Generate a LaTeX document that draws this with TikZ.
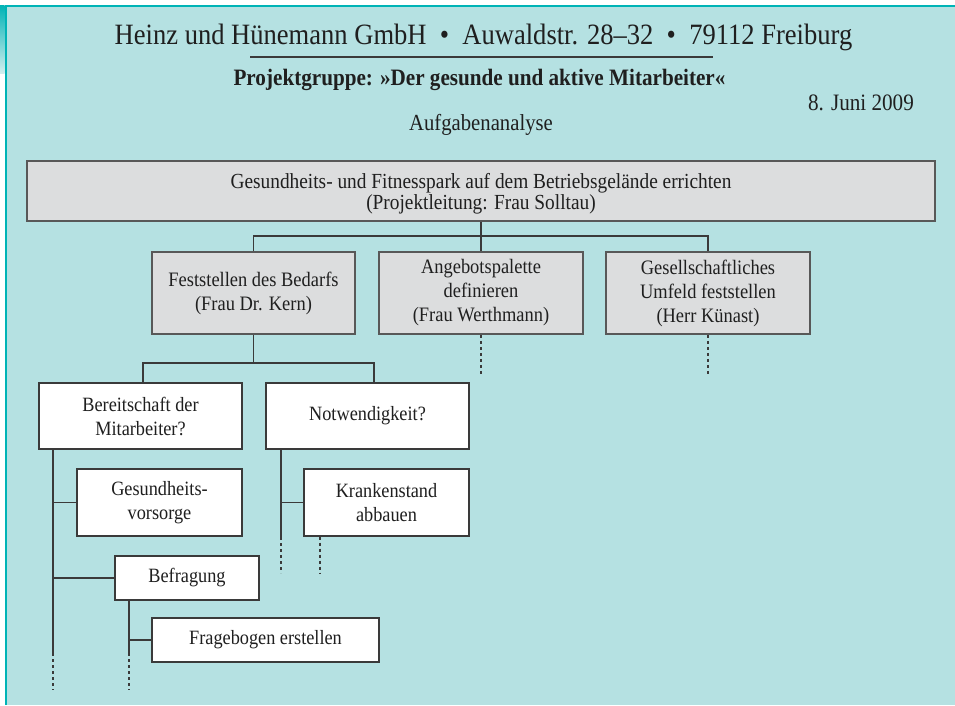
\documentclass[tikz,border=0pt]{standalone}
\usepackage{fontspec}
\setmainfont{Liberation Serif}[FakeStretch=0.9]
\usetikzlibrary{calc}
\newcommand\myfs[2]{\fontsize{#1}{#2}\selectfont}
\definecolor{bgcyan}{HTML}{B5E1E2}
\definecolor{teal1}{HTML}{00B3B6}
\definecolor{tealpale}{HTML}{D2EEEE}
\definecolor{boxgray}{HTML}{DCDDDE}
\definecolor{linegray}{HTML}{3A3A3A}
\tikzset{
  gbox/.style={draw=linegray!85, line width=1.6pt, fill=boxgray, inner sep=0pt, align=center, text=black!88},
  wbox/.style={draw=linegray, line width=1.2pt, fill=white, inner sep=0pt, align=center, text=black!88, font=\myfs{20.3}{24}},
  conn/.style={draw=linegray, line width=1.2pt},
  dconn/.style={draw=linegray, line width=1.1pt, dash pattern=on 3pt off 3pt},
  hdr/.style={inner sep=0pt, text=black!88},
}
\begin{document}
\begin{tikzpicture}[x=1pt, y=-1pt]
\useasboundingbox (0,0) rectangle (955,705);
% frame
\fill[white] (0,0) rectangle (955,705);
\fill[bgcyan] (7,7) rectangle (955,705);
\shade[top color=teal1, bottom color=tealpale] (0,5) rectangle (4.5,73);
\draw[teal1, line width=2pt] (5,6) -- (955,6);
\draw[teal1, line width=2pt] (6,5) -- (6,705);
% header
\node[hdr, anchor=base, font=\myfs{29.5}{32}] (title) at (483.5,44) {Heinz und Hünemann GmbH\ \ •\ \ Auwaldstr. 28–32\ \ •\ \ 79112 Freiburg};
\coordinate (ruleL) at (250,57);
\coordinate (ruleR) at (713,57);
\draw[linegray, line width=1.4pt] (ruleL) -- (ruleR);
\node[hdr, anchor=base, font=\myfs{23.5}{26}\bfseries] (proj) at (479.5,85) {Projektgruppe: »Der gesunde und aktive Mitarbeiter«};
\node[hdr, anchor=base, font=\myfs{23.5}{26}] (date) at (861,110) {8. Juni 2009};
\node[hdr, anchor=base, font=\myfs{23}{26}] (aufg) at (481,130) {Aufgabenanalyse};
% level 1
\node[gbox, minimum width=908, minimum height=60, font=\myfs{21.5}{21}] (top) at (481,191)
  {\rule{0pt}{20pt}Gesundheits- und Fitnesspark auf dem Betriebsgelände errichten\\(Projektleitung: Frau Solltau)};
% level 2
\node[gbox, minimum width=203, minimum height=82, font=\myfs{20.5}{24}] (fest) at (253.5,293)
  {Feststellen des Bedarfs\\(Frau Dr. Kern)};
\node[gbox, minimum width=204, minimum height=82, font=\myfs{20.5}{24}] (ang) at (481,293)
  {Angebotspalette\\definieren\\(Frau Werthmann)};
\node[gbox, minimum width=204, minimum height=82, font=\myfs{20.5}{24}] (ges) at (708,293)
  {Gesellschaftliches\\Umfeld feststellen\\(Herr Künast)};
% level 3
\node[wbox, minimum width=203, minimum height=66] (ber) at (140.5,416)
  {Bereitschaft der\\Mitarbeiter?};
\node[wbox, minimum width=203, minimum height=66] (not) at (367.5,416)
  {Notwendigkeit?};
% level 4
\node[wbox, minimum width=165, minimum height=67] (gv) at (159.5,502.5)
  {Gesundheits-\\vorsorge};
\node[wbox, minimum width=165, minimum height=67] (kr) at (386.5,502.5)
  {Krankenstand\\abbauen};
\node[wbox, minimum width=144, minimum height=44] (bef) at (187,578)
  {Befragung};
\node[wbox, minimum width=227, minimum height=44] (frb) at (265.5,640)
  {Fragebogen erstellen};
% connectors level 1 -> 2
\coordinate (bus1) at (481,236);
\draw[conn] (top.south) -- (ang.north);
\draw[conn] (fest.north) |- (bus1) -| (ges.north);
\coordinate (a1) at (481,376);
\coordinate (g1) at (708,376);
\draw[dconn] (ang.south) -- (a1);
\draw[dconn] (ges.south) -- (g1);
% level 2 -> 3
\coordinate (bus2) at (253.5,363);
\draw[conn] (fest.south) -- (bus2);
\draw[conn] ([xshift=2.5pt]ber.north) |- (bus2) -| ([xshift=6.5pt]not.north);
% Bereitschaft branch
\coordinate (b1) at (53,653);
\coordinate (b1e) at (53,690);
\draw[conn] (ber.south -| b1) -- (b1);
\draw[dconn] (b1) -- (b1e);
\draw[conn] (gv.west) -- (gv.west -| b1);
\draw[conn] (bef.west) -- (bef.west -| b1);
\coordinate (b2) at (129,653);
\coordinate (b2e) at (129,690);
\draw[conn] (bef.south -| b2) -- (b2);
\draw[dconn] (b2) -- (b2e);
\draw[conn] (frb.west) -- (frb.west -| b2);
% Notwendigkeit branch
\coordinate (n1) at (281,537);
\coordinate (n1e) at (281,573);
\draw[conn] (not.south -| n1) -- (n1);
\draw[dconn] (n1) -- (n1e);
\draw[conn] (kr.west) -- (kr.west -| n1);
\coordinate (k1) at (320,573);
\draw[dconn] (kr.south -| k1) -- (k1);
\end{tikzpicture}
\end{document}
